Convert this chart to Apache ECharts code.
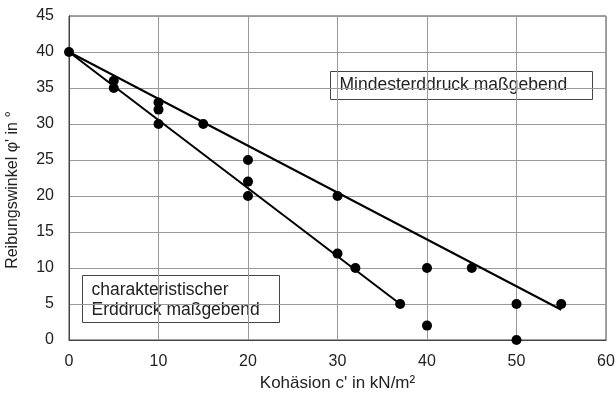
<!DOCTYPE html>
<html>
<head>
<meta charset="utf-8">
<script src="https://cdn.jsdelivr.net/npm/echarts@6/dist/echarts.min.js"></script>
<style>
  html, body { margin: 0; padding: 0; background: #fff; }
  #chart { width: 616px; height: 394px; }
</style>
</head>
<body>
<div id="chart"></div>
<script>
// Messpunkte (Kohäsion c', Reibungswinkel φ')
const pointsC = [0, 5, 5, 10, 10, 10, 15, 20, 20, 20, 30, 30, 32, 37, 40, 40, 45, 50, 50, 55]
const pointsPhi = [40, 36, 35, 33, 32, 30, 30, 25, 22, 20, 20, 12, 10, 5, 10, 2, 10, 5, 0, 5]

// Grenzlinien
const upperLine = [[0, 40], [55, 4.2]]
const lowerLine = [[0, 40], [37, 5]]

const xTicks = [0, 10, 20, 30, 40, 50, 60]
const yTicks = [0, 5, 10, 15, 20, 25, 30, 35, 40, 45]

const fontFamily = 'Liberation Sans, Arial, sans-serif'
const chart = echarts.init(document.getElementById('chart'))

chart.setOption({
  animation: false,
  grid: {
    left: 69,
    right: 10,
    top: 16,
    bottom: 54,
    outerBoundsMode: 'none',
    show: true,
    borderColor: '#444',
    borderWidth: 1
  },
  xAxis: {
    type: 'value',
    min: xTicks[0],
    max: xTicks[xTicks.length - 1],
    interval: 10,
    name: "Kohäsion c' in kN/m²",
    nameLocation: 'middle',
    nameGap: 35,
    nameTextStyle: { color: '#222', fontSize: 17, fontFamily: fontFamily },
    axisLine: { lineStyle: { color: '#444' } },
    axisTick: { show: false },
    axisLabel: { color: '#222', fontSize: 16, fontFamily: fontFamily, margin: 14 },
    splitLine: { lineStyle: { color: '#999', width: 1 } }
  },
  yAxis: {
    type: 'value',
    min: yTicks[0],
    max: yTicks[yTicks.length - 1],
    interval: 5,
    name: "Reibungswinkel φ' in °",
    nameLocation: 'middle',
    nameGap: 48,
    nameRotate: 90,
    nameTextStyle: { color: '#222', fontSize: 16, fontFamily: fontFamily, padding: [0, 24, 0, 0] },
    axisLine: { lineStyle: { color: '#444' } },
    axisTick: { show: false },
    axisLabel: { color: '#222', fontSize: 16, fontFamily: fontFamily, margin: 15 },
    splitLine: { lineStyle: { color: '#999', width: 1 } }
  },
  series: [
    {
      type: 'line',
      data: upperLine,
      symbol: 'none',
      lineStyle: { color: '#000', width: 2 },
      z: 3
    },
    {
      type: 'line',
      data: lowerLine,
      symbol: 'none',
      lineStyle: { color: '#000', width: 2 },
      z: 3
    },
    {
      type: 'scatter',
      data: pointsC.map((c, i) => [c, pointsPhi[i]]),
      symbolSize: 10,
      itemStyle: { color: '#000', opacity: 1 },
      z: 4
    }
  ],
  graphic: [
    {
      type: 'group',
      left: 330,
      top: 71,
      z: 10,
      children: [
        {
          type: 'rect',
          shape: { x: 0, y: 0, width: 262, height: 28 },
          style: { fill: '#fff', stroke: '#444', lineWidth: 1 }
        },
        {
          type: 'text',
          x: 9,
          y: 14,
          style: {
            text: 'Mindesterddruck maßgebend',
            fill: '#222',
            font: '17.5px ' + fontFamily,
            verticalAlign: 'middle'
          }
        }
      ]
    },
    {
      type: 'group',
      left: 82,
      top: 275,
      z: 10,
      children: [
        {
          type: 'rect',
          shape: { x: 0, y: 0, width: 197, height: 47 },
          style: { fill: '#fff', stroke: '#444', lineWidth: 1 }
        },
        {
          type: 'text',
          x: 9,
          y: 25,
          style: {
            text: 'charakteristischer\nErddruck maßgebend',
            fill: '#222',
            font: '17.5px ' + fontFamily,
            lineHeight: 20,
            verticalAlign: 'middle'
          }
        }
      ]
    }
  ]
})
</script>
</body>
</html>
